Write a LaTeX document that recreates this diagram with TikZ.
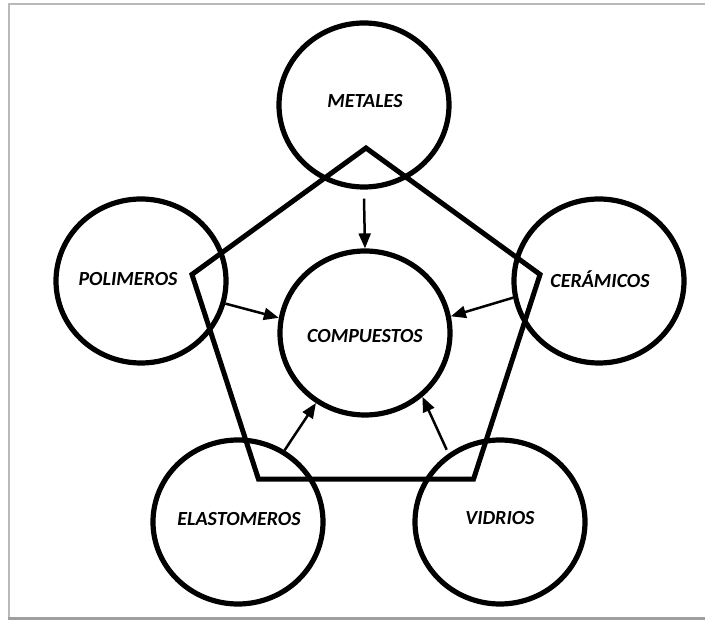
\documentclass[tikz,border=0pt]{standalone}
\usepackage{fontspec}
\setmainfont{Carlito}
\usetikzlibrary{
  arrows,
  arrows.meta,
  shapes.geometric
}
\tikzset{
  material/.style=
  {
    ellipse,
    draw=black,
    line width=5.2pt,
    minimum width=170pt,
    minimum height=164pt
  },
  matlabel/.style=
  {
    font=\fontsize{20}{20}\selectfont\bfseries\itshape,
    text=black
  },
  penta/.style=
  {
    regular polygon,
    regular polygon sides=5,
    minimum size=366pt,
    draw=black,
    line width=5pt
  },
  flow/.style=
  {
    line width=2.5pt,
    draw=black,
    -{Triangle[length=15pt,width=12pt]}
  },
  framebox/.style=
  {
    draw=gray!55,
    line width=1.8pt
  }
 }

\begin{document}
\begin{tikzpicture}[x=1pt, y=1pt]
          \useasboundingbox (0,0) rectangle (705,624);
          % frame
          \draw[framebox] (9,5) -- (9,620) -- (705,620);
          \draw[framebox, draw=gray!75, line width=3pt] (8,5) -- (705,5);
          % pentagon
          \node[penta] (pent) at (366,293) {};
          % materials
          \node[material] (met) at (364,519) {};
          \node[material] (comp) at (365,291) {};
          \node[material] (pol) at (141,343) {};
          \node[material] (cer) at (599,343) {};
          \node[material] (ela) at (238,102) {};
          \node[material] (vid) at (500,102) {};
          \node[matlabel] (metl) at (365,523) {METALES};
          \node[matlabel] (compl) at (365,288) {COMPUESTOS};
          \node[matlabel] (poll) at (128,345) {POLIMEROS};
          \node[matlabel] (cerl) at (600,345) {CERÁMICOS};
          \node[matlabel] (elal) at (239,105) {ELASTOMEROS};
          \node[matlabel] (vidl) at (500,106) {VIDRIOS};
          % arrows
          \draw[flow] ([yshift=-9pt]met.south) -- (comp.north);
          \draw[flow] (pol.-15) -- (comp.170);
          \draw[flow] (cer.-169) -- (comp.11);
          \draw[flow] (ela.57) -- (comp.235);
          \draw[flow] ([shift={(-3pt,3pt)}]vid.126) -- (comp.312);
        \end{tikzpicture}
\end{document}
